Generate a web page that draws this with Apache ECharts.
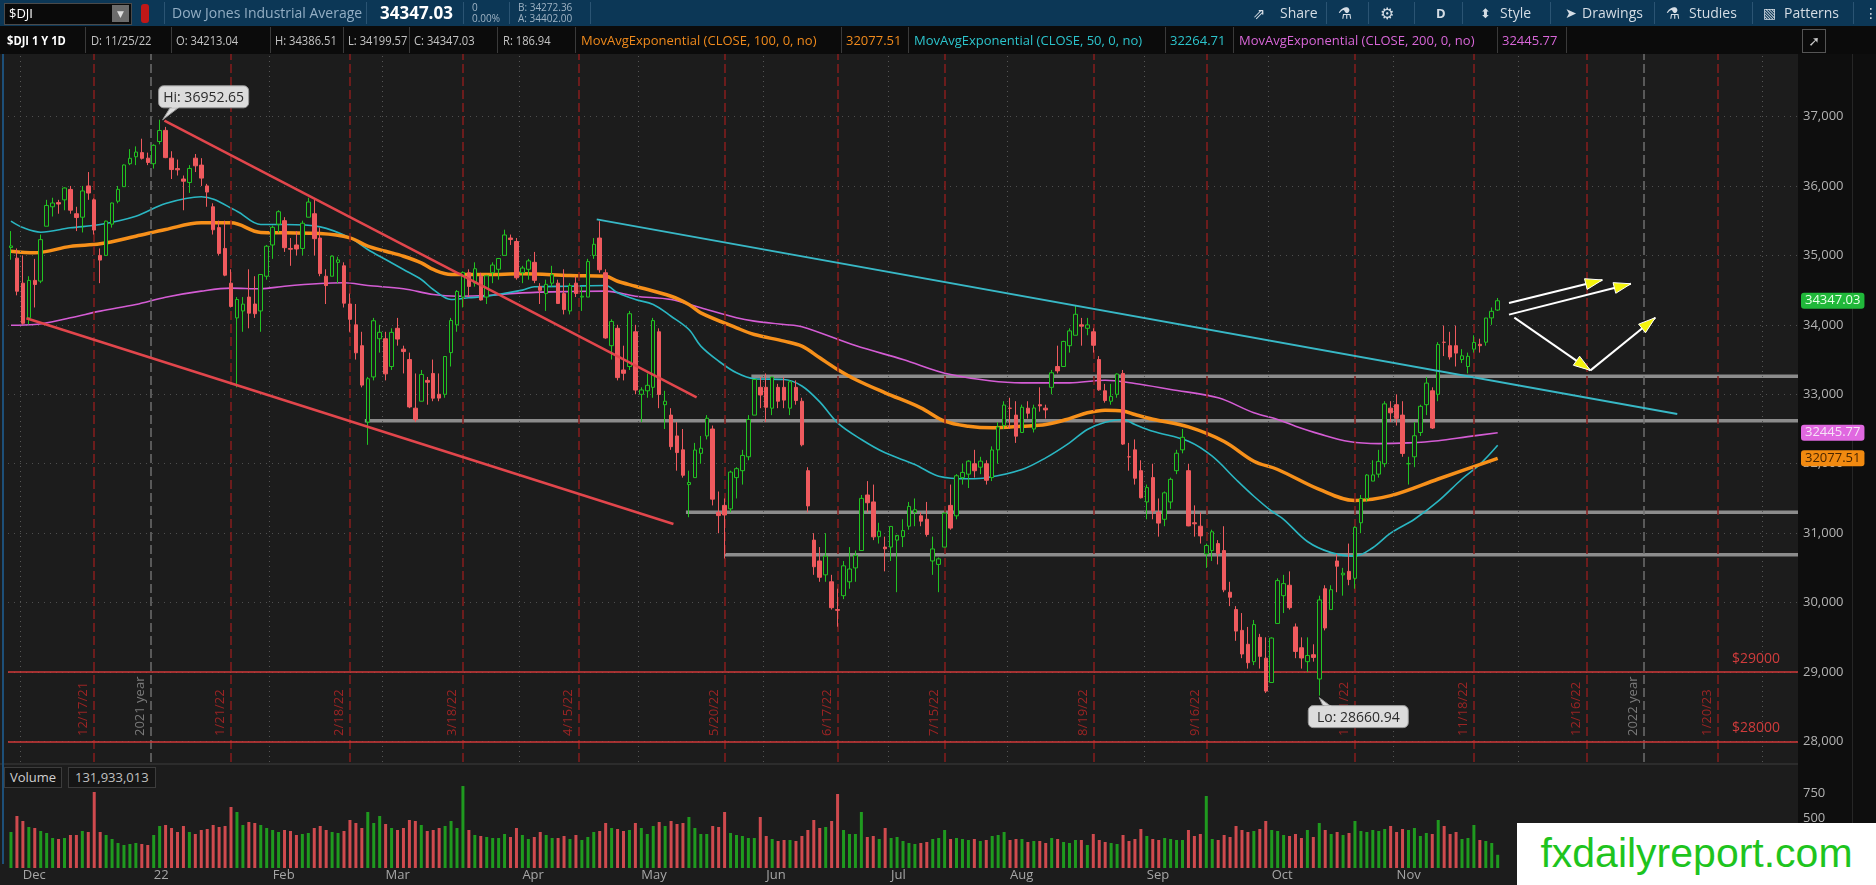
<!DOCTYPE html>
<html><head><meta charset="utf-8">
<script src="https://cdn.jsdelivr.net/npm/echarts@6/dist/echarts.min.js"></script>
<style>
html,body{margin:0;padding:0;background:#1c1c1c;width:1876px;height:885px;overflow:hidden;font-family:"Open Sans","DejaVu Sans",sans-serif;}
#chart{position:absolute;left:0;top:0;width:1876px;height:885px;z-index:1;}
.bg{position:absolute;z-index:0}
.ov{position:absolute;z-index:2;white-space:nowrap}
.tb{color:#d5dde5;font-size:14px;top:4px;line-height:18px}
.sep{position:absolute;z-index:2;width:1px;background:#2b5473}
.cell{position:absolute;z-index:2;top:26px;height:28px;line-height:28px;font-size:13px;color:#c4c4c4;white-space:nowrap}
.nar{transform:scaleX(0.86);transform-origin:left center}
.cb{position:absolute;z-index:2;top:27px;height:26px;width:1px;background:#3a3a3a}
</style></head>
<body>
<div class="bg" style="left:0;top:0;width:1876px;height:26px;background:#0c3756"></div>
<div class="bg" style="left:0;top:26px;width:1876px;height:28px;background:#0b0b0b"></div>
<div class="bg" style="left:1798px;top:54px;width:78px;height:831px;background:#0e0e0e"></div>
<div class="bg" style="left:1852px;top:54px;width:1px;height:831px;background:#262626"></div>
<div class="bg" style="left:0;top:763px;width:1798px;height:2px;background:#2c2c2c"></div>
<div class="bg" style="left:2px;top:54px;width:2px;height:810px;background:#1d4f78"></div>

<!-- toolbar -->
<div class="ov" style="left:4px;top:3px;width:126px;height:20px;background:#0a0a0a;border:1px solid #4a4a4a"></div>
<div class="ov" style="left:9px;top:3px;color:#fff;font-size:13px;line-height:21px">$DJI</div>
<div class="ov" style="left:112px;top:5px;width:17px;height:17px;background:#6b6b6b;color:#ddd;font-size:9px;line-height:17px;text-align:center">&#9660;</div>
<div class="ov" style="left:141px;top:4px;width:8px;height:19px;background:#c01818;border-radius:3px"></div>
<div class="sep" style="left:164px;top:2px;height:22px"></div>
<div class="ov" style="left:172px;top:3px;color:#93aec4;font-size:14px;line-height:20px">Dow Jones Industrial Average</div>
<div class="sep" style="left:366px;top:2px;height:22px"></div>
<div class="ov" style="left:380px;top:2px;color:#fff;font-size:17px;font-weight:bold;line-height:22px">34347.03</div>
<div class="sep" style="left:463px;top:2px;height:22px"></div>
<div class="ov" style="left:472px;top:2px;color:#9fb3c4;font-size:10px;line-height:11px">0<br>0.00%</div>
<div class="sep" style="left:509px;top:2px;height:22px"></div>
<div class="ov" style="left:518px;top:2px;color:#9fb3c4;font-size:10px;line-height:11px">B: 34272.36<br>A: 34402.00</div>
<div class="sep" style="left:590px;top:2px;height:22px"></div>

<div class="ov tb" style="left:1253px;font-size:15px">&#8663;</div>
<div class="ov tb" style="left:1280px">Share</div>
<div class="sep" style="left:1326px;top:2px;height:22px"></div>
<div class="ov tb" style="left:1338px;font-size:16px">&#9879;</div>
<div class="sep" style="left:1368px;top:2px;height:22px"></div>
<div class="ov tb" style="left:1380px;font-size:16px">&#9881;</div>
<div class="sep" style="left:1414px;top:2px;height:22px"></div>
<div class="ov tb" style="left:1436px;font-size:13px;font-weight:bold">D</div>
<div class="sep" style="left:1462px;top:2px;height:22px"></div>
<div class="ov tb" style="left:1480px;font-size:13px">&#11021;</div>
<div class="ov tb" style="left:1500px">Style</div>
<div class="sep" style="left:1550px;top:2px;height:22px"></div>
<div class="ov tb" style="left:1565px;font-size:14px">&#10148;</div>
<div class="ov tb" style="left:1582px">Drawings</div>
<div class="sep" style="left:1654px;top:2px;height:22px"></div>
<div class="ov tb" style="left:1666px;font-size:16px">&#9879;</div>
<div class="ov tb" style="left:1689px">Studies</div>
<div class="sep" style="left:1752px;top:2px;height:22px"></div>
<div class="ov tb" style="left:1763px;font-size:14px">&#9639;</div>
<div class="ov tb" style="left:1784px">Patterns</div>
<div class="sep" style="left:1853px;top:2px;height:22px"></div>
<div class="ov tb" style="left:1864px">&#8942;</div>

<!-- info row -->
<div class="cell nar" style="left:7px;color:#fff;font-weight:bold">$DJI 1 Y 1D</div>
<div class="cb" style="left:85px"></div>
<div class="cell nar" style="left:91px">D: 11/25/22</div>
<div class="cb" style="left:171px"></div>
<div class="cell nar" style="left:176px">O: 34213.04</div>
<div class="cb" style="left:270px"></div>
<div class="cell nar" style="left:275px">H: 34386.51</div>
<div class="cb" style="left:343px"></div>
<div class="cell nar" style="left:348px">L: 34199.57</div>
<div class="cb" style="left:409px"></div>
<div class="cell nar" style="left:414px">C: 34347.03</div>
<div class="cb" style="left:497px"></div>
<div class="cell nar" style="left:503px">R: 186.94</div>
<div class="cb" style="left:575px"></div>
<div class="cell" style="left:581px;color:#f08a1c">MovAvgExponential (CLOSE, 100, 0, no)</div>
<div class="cb" style="left:841px"></div>
<div class="cell" style="left:846px;color:#f08a1c">32077.51</div>
<div class="cb" style="left:908px"></div>
<div class="cell" style="left:914px;color:#2cc4cc">MovAvgExponential (CLOSE, 50, 0, no)</div>
<div class="cb" style="left:1165px"></div>
<div class="cell" style="left:1170px;color:#2cc4cc">32264.71</div>
<div class="cb" style="left:1233px"></div>
<div class="cell" style="left:1239px;color:#d866d8">MovAvgExponential (CLOSE, 200, 0, no)</div>
<div class="cb" style="left:1497px"></div>
<div class="cell" style="left:1502px;color:#d866d8">32445.77</div>
<div class="cb" style="left:1566px"></div>
<div class="ov" style="left:1802px;top:29px;width:22px;height:22px;border:1px solid #555;color:#ccc;font-size:14px;line-height:22px;text-align:center">&#10138;</div>

<!-- volume label -->
<div class="ov" style="left:4px;top:767px;height:19px;padding:0 5px;border:1px solid #3c3c3c;background:#151515;color:#d0d0d0;font-size:13px;line-height:19px">Volume</div>
<div class="ov" style="left:68px;top:767px;height:19px;padding:0 6px;border:1px solid #3c3c3c;background:#151515;color:#c0c0c0;font-size:13px;line-height:19px">131,933,013</div>

<!-- watermark -->
<div class="ov" style="left:1517px;top:823px;width:359px;height:62px;background:#ffffff;z-index:3"></div>
<div class="ov" style="left:1517px;top:823px;width:359px;height:62px;line-height:60px;text-align:center;color:#1ec41e;font-size:41px;font-family:'Liberation Sans',Arial,sans-serif;z-index:4">fxdailyreport.com</div>

<div id="chart"></div>
<script>
// ---------- DATA ----------
// date, open, high, low, close
const dailyOHLC = [
['11/29/21',35113,35350,34937,35136],['11/30/21',34960,35100,34425,34484],
['12/1/21',34600,35000,34000,34022],['12/2/21',34100,34700,34006,34640],['12/3/21',34640,34950,34250,34581],
['12/6/21',34630,35300,34600,35227],['12/7/21',35420,35800,35420,35719],['12/8/21',35700,35830,35560,35754],['12/9/21',35760,35800,35600,35740],['12/10/21',35800,35980,35650,35971],
['12/13/21',35950,36000,35600,35651],['12/14/21',35600,35700,35350,35545],['12/15/21',35550,36000,35330,35928],['12/16/21',36000,36200,35800,35898],['12/17/21',35800,35820,35300,35365],
['12/20/21',35000,35100,34600,34932],['12/21/21',35000,35500,35000,35493],['12/22/21',35450,35760,35400,35754],['12/23/21',35780,36000,35750,35951],
['12/27/21',35990,36310,35990,36302],['12/28/21',36320,36530,36300,36398],['12/29/21',36420,36570,36300,36488],['12/30/21',36480,36680,36380,36398],['12/31/21',36400,36480,36300,36338],
['1/3/22',36320,36600,36250,36585],['1/4/22',36640,36953,36600,36799],['1/5/22',36800,36850,36400,36408],['1/6/22',36400,36500,36100,36236],['1/7/22',36250,36380,36150,36232],
['1/10/22',36100,36150,35650,36068],['1/11/22',36050,36300,35900,36252],['1/12/22',36400,36460,36200,36290],['1/13/22',36300,36400,36000,36113],['1/14/22',36000,36030,35700,35912],
['1/18/22',35700,35750,35300,35369],['1/19/22',35400,35500,35000,35029],['1/20/22',35100,35500,34700,34715],['1/21/22',34600,34800,34250,34265],
['1/24/22',34100,34400,33100,34365],['1/25/22',34200,34400,33900,34298],['1/26/22',34400,34800,33950,34168],['1/27/22',34300,34700,34100,34160],['1/28/22',34200,34730,33900,34725],
['1/31/22',34700,35150,34650,35132],['2/1/22',35150,35430,34950,35405],['2/2/22',35450,35650,35330,35629],['2/3/22',35500,35550,35050,35111],['2/4/22',35100,35250,34850,35089],
['2/7/22',35150,35350,35000,35092],['2/8/22',35100,35500,35000,35463],['2/9/22',35550,35830,35550,35768],['2/10/22',35600,35800,35000,35241],['2/11/22',35250,35400,34700,34738],
['2/14/22',34700,34800,34300,34566],['2/15/22',34700,35000,34700,34989],['2/16/22',34900,34980,34600,34935],['2/17/22',34850,34900,34250,34312],['2/18/22',34300,34450,33900,34079],
['2/22/22',34000,34300,33500,33597],['2/23/22',33700,33900,33100,33132],['2/24/22',32600,33250,32272,33224],['2/25/22',33250,34100,33200,34059],
['2/28/22',33800,34000,33600,33893],['3/1/22',33800,33900,33200,33294],['3/2/22',33400,33950,33350,33892],['3/3/22',33950,34100,33700,33795],['3/4/22',33650,33700,33300,33615],
['3/7/22',33500,33600,32800,32818],['3/8/22',32800,33300,32600,32633],['3/9/22',32900,33350,32900,33286],['3/10/22',33200,33250,32850,33174],['3/11/22',33300,33500,32900,32944],
['3/14/22',33000,33300,32900,32945],['3/15/22',33000,33550,32950,33544],['3/16/22',33600,34100,33400,34063],['3/17/22',34000,34500,33900,34481],['3/18/22',34400,34770,34250,34755],
['3/21/22',34750,34800,34400,34553],['3/22/22',34600,34900,34550,34808],['3/23/22',34700,34750,34350,34358],['3/24/22',34400,34720,34300,34707],['3/25/22',34750,34900,34600,34861],
['3/28/22',34800,34960,34650,34955],['3/29/22',35000,35370,35000,35294],['3/30/22',35250,35300,35150,35228],['3/31/22',35200,35250,34650,34678],['4/1/22',34750,34850,34600,34818],
['4/4/22',34800,34950,34650,34921],['4/5/22',34900,35050,34600,34641],['4/6/22',34550,34600,34300,34497],['4/7/22',34450,34650,34200,34583],['4/8/22',34600,34850,34550,34721],
['4/11/22',34600,34650,34300,34308],['4/12/22',34450,34800,34150,34220],['4/13/22',34200,34600,34150,34565],['4/14/22',34600,34700,34400,34451],
['4/18/22',34400,34550,34200,34412],['4/19/22',34400,34950,34400,34911],['4/20/22',35000,35250,34950,35160],['4/21/22',35250,35492,34750,34793],['4/22/22',34750,34800,33800,33811],
['4/25/22',33700,34080,33500,34049],['4/26/22',33950,34000,33200,33240],['4/27/22',33350,33700,33200,33302],['4/28/22',33400,34200,33350,34160],['4/29/22',33900,34000,33000,33061],
['5/2/22',33000,33100,32600,33062],['5/3/22',33050,33300,32950,33129],['5/4/22',33100,34100,32950,34061],['5/5/22',33900,33950,32800,32998],['5/6/22',32850,33050,32500,32900],
['5/9/22',32700,32800,32200,32246],['5/10/22',32400,32600,31900,32161],['5/11/22',32200,32500,31800,31834],['5/12/22',31700,31900,31230,31730],['5/13/22',31800,32300,31800,32197],
['5/16/22',32150,32400,32000,32223],['5/17/22',32400,32700,32350,32655],['5/18/22',32500,32550,31400,31490],['5/19/22',31300,31600,31000,31253],['5/20/22',31400,31500,30636,31262],
['5/23/22',31350,31900,31300,31880],['5/24/22',31800,31950,31500,31929],['5/25/22',31900,32200,31700,32120],['5/26/22',32100,32700,32050,32637],['5/27/22',32700,33215,32700,33213],
['5/31/22',33100,33250,32800,32990],['6/1/22',33100,33300,32600,32813],['6/2/22',32800,33250,32700,33248],['6/3/22',33100,33150,32800,32900],
['6/6/22',33100,33250,32800,32916],['6/7/22',32800,33200,32700,33180],['6/8/22',33100,33200,32850,32910],['6/9/22',32900,32950,32250,32273],['6/10/22',31900,31950,31300,31393],
['6/13/22',30900,31000,30400,30517],['6/14/22',30600,30800,30300,30365],['6/15/22',30400,31000,30300,30669],['6/16/22',30300,30400,29900,29927],['6/17/22',29900,30200,29653,29889],
['6/21/22',30100,30600,30050,30530],['6/22/22',30300,30800,30200,30484],['6/23/22',30500,30750,30300,30677],['6/24/22',30750,31550,30750,31501],
['6/27/22',31550,31750,31300,31438],['6/28/22',31450,31700,30900,30947],['6/29/22',30950,31150,30850,31029],['6/30/22',30800,30950,30450,30775],['7/1/22',30800,31100,30600,31097],
['7/5/22',30900,30950,30150,30968],['7/6/22',30950,31200,30800,31037],['7/7/22',31100,31450,31050,31385],['7/8/22',31300,31500,31100,31338],
['7/11/22',31250,31300,31100,31173],['7/12/22',31200,31450,30950,30981],['7/13/22',30600,30950,30400,30773],['7/14/22',30550,30650,30150,30630],['7/15/22',30800,31300,30800,31289],
['7/18/22',31400,31700,31050,31073],['7/19/22',31250,31850,31200,31827],['7/20/22',31800,32000,31700,31875],['7/21/22',31850,32050,31650,32037],['7/22/22',32000,32200,31800,31899],
['7/25/22',31950,32100,31850,32037],['7/26/22',32000,32050,31700,31762],['7/27/22',31800,32250,31750,32198],['7/28/22',32200,32600,32000,32530],['7/29/22',32550,32900,32500,32845],
['8/1/22',32800,32950,32500,32798],['8/2/22',32700,32900,32300,32397],['8/3/22',32450,32850,32450,32813],['8/4/22',32800,32900,32650,32727],['8/5/22',32500,32850,32450,32803],
['8/8/22',32850,33100,32750,32833],['8/9/22',32800,32850,32650,32775],['8/10/22',33100,33350,33000,33310],['8/11/22',33400,33700,33300,33337],['8/12/22',33400,33770,33400,33761],
['8/15/22',33700,33950,33600,33913],['8/16/22',33850,34281,33850,34152],['8/17/22',34000,34100,33700,33981],['8/18/22',33950,34100,33850,33999],['8/19/22',33900,33950,33600,33706],
['8/22/22',33500,33550,33050,33064],['8/23/22',33050,33150,32880,32910],['8/24/22',32900,33150,32850,32970],['8/25/22',33000,33300,32950,33292],['8/26/22',33300,33350,32270,32283],
['8/29/22',32100,32300,31900,32099],['8/30/22',32200,32350,31700,31791],['8/31/22',31900,32050,31500,31510],['9/1/22',31450,31700,31200,31656],['9/2/22',31800,32000,31200,31318],
['9/6/22',31300,31500,30950,31145],['9/7/22',31200,31600,31100,31581],['9/8/22',31450,31800,31350,31775],['9/9/22',31900,32200,31850,32151],
['9/12/22',32200,32500,32150,32381],['9/13/22',31900,32000,31100,31105],['9/14/22',31150,31400,30950,31135],['9/15/22',31100,31300,30850,30961],['9/16/22',30700,30850,30500,30822],
['9/19/22',30750,31050,30600,31020],['9/20/22',30850,30900,30550,30706],['9/21/22',30750,31100,30150,30184],['9/22/22',30150,30300,29950,30077],['9/23/22',29900,29950,29450,29590],
['9/26/22',29600,29850,29200,29260],['9/27/22',29400,29650,29050,29135],['9/28/22',29150,29750,29100,29684],['9/29/22',29500,29550,29050,29226],['9/30/22',29200,29500,28700,28726],
['10/3/22',28850,29500,28850,29490],['10/4/22',29700,30350,29700,30317],['10/5/22',30100,30400,29850,30274],['10/6/22',30250,30450,29900,29927],['10/7/22',29650,29700,29200,29297],
['10/10/22',29350,29500,29050,29203],['10/11/22',29150,29500,29000,29239],['10/12/22',29250,29400,29150,29211],['10/13/22',28900,30100,28661,30039],['10/14/22',30200,30250,29600,29635],
['10/17/22',29900,30250,29900,30186],['10/18/22',30600,30700,30150,30524],['10/19/22',30400,30500,30100,30424],['10/20/22',30450,30850,30250,30334],['10/21/22',30350,31100,30200,31083],
['10/24/22',31150,31550,31000,31500],['10/25/22',31500,31850,31450,31837],['10/26/22',31750,32050,31750,31839],['10/27/22',31850,32200,31800,32034],['10/28/22',32000,32900,31950,32862],
['10/31/22',32800,32900,32600,32733],['11/1/22',32850,33000,32550,32653],['11/2/22',32700,32900,32100,32148],['11/3/22',32000,32100,31700,32001],['11/4/22',32100,32600,31950,32403],
['11/7/22',32450,32850,32400,32827],['11/8/22',32850,33250,32700,33161],['11/9/22',33050,33100,32500,32514],['11/10/22',33000,33750,32900,33716],['11/11/22',33750,33990,33550,33748],
['11/14/22',33700,33900,33500,33537],['11/15/22',33700,33990,33400,33593],['11/16/22',33500,33650,33450,33554],['11/17/22',33400,33600,33300,33547],['11/18/22',33650,33850,33600,33746],
['11/21/22',33720,33800,33600,33700],['11/22/22',33750,34100,33700,34098],['11/23/22',34100,34250,34000,34195],['11/25/22',34213,34387,34200,34347]
];
// future (blank) trading days shown on the axis
const futureDates = ['11/28/22','11/29/22','11/30/22','12/1/22','12/2/22','12/5/22','12/6/22','12/7/22','12/8/22','12/9/22','12/12/22','12/13/22','12/14/22','12/15/22','12/16/22','12/19/22','12/20/22','12/21/22','12/22/22','12/23/22','12/27/22','12/28/22','12/29/22','12/30/22','1/3/23','1/4/23','1/5/23','1/6/23','1/9/23','1/10/23','1/11/23','1/12/23','1/13/23','1/17/23','1/18/23','1/19/23','1/20/23','1/23/23','1/24/23','1/25/23','1/26/23','1/27/23','1/30/23','1/31/23','2/1/23','2/2/23','2/3/23','2/6/23','2/7/23','2/8/23'];
// volume in millions
const volumeM = [360,520,470,410,400,370,350,300,290,300,330,330,370,360,760,360,330,290,250,230,240,250,240,230,
330,420,430,400,360,420,360,340,380,390,430,410,420,610,560,430,460,450,430,400,
380,360,380,370,330,340,350,400,420,380,360,350,370,480,450,400,560,450,520,
440,400,380,400,480,470,430,370,380,400,420,470,400,820,380,330,320,310,300,300,340,310,400,
330,290,310,360,330,300,300,320,290,330,280,310,360,370,450,400,390,370,380,450,
400,340,420,460,420,470,440,450,510,400,340,340,420,410,560,350,330,320,300,300,510,
320,290,270,280,280,270,320,380,480,400,410,470,740,380,340,340,560,310,320,290,400,
300,310,270,250,240,250,260,290,300,380,290,300,290,280,290,270,280,320,330,360,
280,290,290,260,270,270,250,300,290,260,250,280,280,230,340,280,260,250,240,330,270,290,390,
320,290,280,300,290,280,280,380,320,340,720,290,280,330,310,420,380,360,370,390,470,
380,370,330,320,340,300,380,310,450,380,340,360,330,350,470,370,360,380,370,390,420,
360,390,380,400,320,350,340,480,420,340,360,290,300,430,280,270,250,132];
// EMA readings (trading-day index, value)
const ema100Idx = [0,4,10,15,21,26,32,37,42,46,52,57,60,63,66,69,71,74,80,86,94,100,102,105,111,114,116,122,125,130,133,136,139,142,147,153,157,161,165,170,174,178,181,184,187,189,192,198,204,209,213,220,226,232,240,250];
const ema100Val = [35060,35037,35130,35167,35276,35373,35469,35469,35330,35325,35315,35253,35132,35060,34988,34893,34797,34725,34725,34735,34710,34700,34628,34556,34412,34293,34173,33957,33861,33765,33693,33525,33357,33213,33021,32805,32613,32540,32517,32540,32565,32650,32733,32771,32760,32709,32640,32530,32320,32036,31917,31630,31470,31540,31780,32077.51];
const ema50Idx = [0,2,5,10,15,21,26,32,38,42,46,52,57,60,63,66,69,71,74,77,80,86,88,94,100,102,105,108,111,114,116,119,122,125,130,133,136,139,143,147,152,156,161,164,170,174,178,181,184,187,189,192,198,202,206,209,212,214,218,222,226,229,232,236,240,244,247,250];
const ema50Val = [35493,35400,35334,35397,35445,35565,35747,35844,35637,35445,35445,35411,35253,35085,34940,34797,34653,34509,34365,34389,34412,34500,34548,34556,34566,34461,34365,34293,34124,33933,33693,33477,33309,33223,33213,33120,32890,32589,32349,32157,31989,31820,31783,31797,31917,32085,32301,32493,32598,32637,32565,32468,32324,32108,31773,31532,31316,31200,30880,30720,30670,30790,31000,31200,31460,31780,31990,32264.71];
const ema200Idx = [0,4,10,15,21,26,32,37,42,46,52,56,60,66,71,75,80,86,94,100,105,111,116,122,125,130,133,142,150,158,170,178,184,189,195,203,209,213,216,220,225,230,235,240,245,250];
const ema200Val = [33995,34005,34101,34197,34293,34398,34485,34528,34519,34556,34595,34605,34566,34519,34437,34412,34422,34460,34480,34485,34412,34365,34245,34101,34053,34005,33972,33702,33501,33285,33165,33165,33203,33155,33069,32949,32733,32637,32540,32430,32320,32290,32300,32330,32390,32445.77];
// drawn studies (index, price) pairs
const redTrendLines = [[2.6,34094,111.4,31132],[25.8,36940,115.3,32957]];
const cyanTrendLines = [[98.5,35520,280.2,32716]];
const levelStarts = [124.5,59.5,113.5,120];
const levelValues = [33260,32620,31300,30690];
const arrowSegs = [[251.9,34314,267.6,34646],[251.9,34147,272.4,34591],[252.8,34103,265.6,33344],[265.6,33344,276.5,34103]];
const priceLevels = [29000,28000];
const opexIdx = [14,37,57,76,95.5,120,139,157,182,201,226,246,265,287];
const opexLabels = ['12/17/21','1/21/22','2/18/22','3/18/22','4/15/22','5/20/22','6/17/22','7/15/22','8/19/22','9/16/22','10/21/22','11/18/22','12/16/22','1/20/23'];
const yearIdx = [23.5,274.5];
const yearLabels = ['2021 year','2022 year'];
const monthStartIdx = [2,24,44,63,86,106,127,148,168,191,212,233,254,275,295];
const monthLabels = ['Dec','22','Feb','Mar','Apr','May','Jun','Jul','Aug','Sep','Oct','Nov','Dec','23','Feb'];
const yTicks = [28000,29000,30000,31000,32000,33000,34000,35000,36000,37000];
const volTicks = [500,750];
const hiPoint = [25,36952.65];
const loPoint = [220,28660.94];
const lastClose = 34347.03, lastEma200 = 32445.77, lastEma100 = 32077.51;

// ---------- BUILD ----------
const categories = dailyOHLC.map(r => r[0]).concat(futureDates);
const NC = categories.length;
const candleData = dailyOHLC.map(r => [r[1], r[4], r[3], r[2]]);
const volData = dailyOHLC.map((r, i) => ({value: volumeM[i], itemStyle: {color: r[4] >= r[1] ? '#1f9a1f' : '#cf4a4e'}}));
const zip = (a, b) => a.map((v, i) => [v, b[i]]);

function segItem(color, width) {
  return function (params, api) {
    const p1 = api.coord([api.value(0), api.value(1)]);
    const p2 = api.coord([api.value(2), api.value(3)]);
    return {type: 'line', shape: {x1: p1[0], y1: p1[1], x2: p2[0], y2: p2[1]}, style: {stroke: color, lineWidth: width}};
  };
}
function arrowItem(params, api) {
  const p1 = api.coord([api.value(0), api.value(1)]);
  const p2 = api.coord([api.value(2), api.value(3)]);
  const dx = p2[0] - p1[0], dy = p2[1] - p1[1], len = Math.hypot(dx, dy), ux = dx / len, uy = dy / len;
  const hl = 17, hw = 5.5;
  const bx = p2[0] - ux * hl, by = p2[1] - uy * hl;
  return {type: 'group', children: [
    {type: 'line', shape: {x1: p1[0], y1: p1[1], x2: p2[0], y2: p2[1]}, style: {stroke: '#ffffff', lineWidth: 2}},
    {type: 'polygon', shape: {points: [[p2[0], p2[1]], [bx - uy * hw, by + ux * hw], [bx + uy * hw, by - ux * hw]]}, style: {fill: '#f4f40c', stroke: '#ffffff', lineWidth: 1}}
  ]};
}
function calloutItem(params, api) {
  const kind = api.value(2);
  const p = api.coord([api.value(0), api.value(1)]);
  const isHi = kind === 1;
  const text = (isHi ? 'Hi: ' : 'Lo: ') + api.value(1).toFixed(2);
  const w = isHi ? 90 : 100, h = 22;
  const bx = isHi ? p[0] - 1 : p[0] - 11;
  const by = isHi ? p[1] - 34 : p[1] + 10;
  const tri = isHi
    ? [[p[0] + 11, by + h - 1], [p[0] + 20, by + h - 1], [p[0] + 3, p[1]]]
    : [[p[0] + 4, by + 1], [p[0] + 12, by + 1], [p[0], p[1] + 2]];
  return {type: 'group', children: [
    {type: 'polygon', shape: {points: tri}, style: {fill: '#dcdcdc', stroke: '#9a9a9a', lineWidth: 1}},
    {type: 'rect', shape: {x: bx, y: by, width: w, height: h, r: 5}, style: {fill: '#dcdcdc', stroke: '#9a9a9a', lineWidth: 1}},
    {type: 'rect', shape: {x: tri[0][0] + 1, y: isHi ? by + h - 3 : by, width: 7, height: 3}, style: {fill: '#dcdcdc'}},
    {type: 'text', style: {x: bx + w / 2, y: by + h / 2 + 1, text: text, fill: '#2b2b2b', font: '14px "Open Sans"', align: 'center', verticalAlign: 'middle'}}
  ]};
}

const chart = echarts.init(document.getElementById('chart'), null, {renderer: 'canvas'});
const option = {
  animation: false,
  backgroundColor: 'transparent',
  textStyle: {fontFamily: 'Open Sans'},
  grid: [
    {left: 8, right: 78, top: 54, bottom: 123},
    {left: 8, right: 78, top: 766, bottom: 17}
  ],
  xAxis: [
    {type: 'category', gridIndex: 0, data: categories, boundaryGap: true, axisLine: {show: false}, axisTick: {show: false}, axisLabel: {show: false}, splitLine: {show: false}},
    {type: 'value', gridIndex: 0, min: -0.5, max: NC - 0.5, show: false, splitLine: {show: false}},
    {type: 'category', gridIndex: 1, data: categories, boundaryGap: true, axisLine: {show: false}, axisTick: {show: false},
      axisLabel: {show: true, interval: (i) => monthStartIdx.indexOf(i) >= 0, formatter: (v, i) => monthLabels[monthStartIdx.indexOf(i)] || '', color: '#a6a6a6', fontSize: 13, align: 'left', margin: 1},
      splitLine: {show: false}}
  ],
  yAxis: [
    {type: 'value', gridIndex: 0, position: 'right', min: 27705, max: 37900, scale: true,
      axisLine: {show: false}, axisTick: {show: false, customValues: yTicks},
      axisLabel: {customValues: yTicks, color: '#b3b3b3', fontSize: 13, margin: 5},
      splitLine: {show: true, lineStyle: {color: '#4e4e4e', type: [1, 5], width: 1}}},
    {type: 'value', gridIndex: 1, position: 'right', min: 0, max: 1020,
      axisLine: {show: false}, axisTick: {show: false, customValues: volTicks},
      axisLabel: {customValues: volTicks, color: '#b3b3b3', fontSize: 13, margin: 5},
      splitLine: {show: false}}
  ],
  series: [
    {type: 'line', xAxisIndex: 1, yAxisIndex: 0, data: [], silent: true, z: 1,
      markLine: {silent: true, symbol: ['none', 'none'], animation: false, label: {show: false},
        lineStyle: {color: '#555', type: [1, 4], width: 1},
        data: monthStartIdx.filter(i => i !== 24 && i !== 275).map(i => ({xAxis: i - 0.5}))}},
    {type: 'line', xAxisIndex: 1, yAxisIndex: 0, data: [], silent: true, z: 1,
      markLine: {silent: true, symbol: ['none', 'none'], animation: false,
        lineStyle: {color: '#6e6e6e', type: [9, 4], width: 1.5},
        label: {show: true, position: 'insideStartTop', color: '#7a7a7a', fontSize: 13, distance: 4, padding: [0, 0, 0, 22]},
        data: yearIdx.map((v, i) => ({xAxis: v, label: {formatter: yearLabels[i]}}))}},
    {type: 'line', xAxisIndex: 1, yAxisIndex: 0, data: [], silent: true, z: 1,
      markLine: {silent: true, symbol: ['none', 'none'], animation: false,
        lineStyle: {color: '#861c1c', type: [9, 4], width: 1.5},
        label: {show: true, position: 'insideStartTop', color: '#9c2424', fontSize: 13, distance: 4, padding: [0, 0, 0, 22]},
        data: opexIdx.map((v, i) => ({xAxis: v, label: {formatter: opexLabels[i]}}))}},
    {type: 'line', xAxisIndex: 1, yAxisIndex: 0, data: [], silent: true, z: 2,
      markLine: {silent: true, symbol: ['none', 'none'], animation: false,
        lineStyle: {color: '#d03838', type: 'solid', width: 1.6},
        label: {show: true, position: 'insideEndTop', color: '#d03c3c', fontSize: 14, distance: 6, padding: [0, 12, 0, 0], formatter: (p) => '$' + p.value},
        data: priceLevels.map(v => ({yAxis: v}))}},
    {type: 'custom', xAxisIndex: 1, yAxisIndex: 0, silent: true, z: 3, clip: true,
      renderItem: segItem('#8c8c8c', 3.5), encode: {x: [0, 2], y: [1, 3]},
      data: levelStarts.map((s, i) => [s, levelValues[i], NC - 0.5, levelValues[i]])},
    {type: 'line', name: 'EMA200', xAxisIndex: 1, yAxisIndex: 0, data: zip(ema200Idx, ema200Val), smooth: 0.35, showSymbol: false, silent: true, z: 4,
      lineStyle: {color: '#d45cd4', width: 1.6}},
    {type: 'line', name: 'EMA50', xAxisIndex: 1, yAxisIndex: 0, data: zip(ema50Idx, ema50Val), smooth: 0.35, showSymbol: false, silent: true, z: 4,
      lineStyle: {color: '#2ab6c2', width: 1.6}},
    {type: 'line', name: 'EMA100', xAxisIndex: 1, yAxisIndex: 0, data: zip(ema100Idx, ema100Val), smooth: 0.35, showSymbol: false, silent: true, z: 4,
      lineStyle: {color: '#f7901a', width: 3.5}},
    {type: 'candlestick', xAxisIndex: 0, yAxisIndex: 0, data: candleData, barWidth: 4, z: 6,
      itemStyle: {color: '#1c1c1c', color0: '#ef5a5e', borderColor: '#22c322', borderColor0: '#ef5a5e', borderWidth: 1},
      markLine: {silent: true, symbol: ['none', 'none'], animation: false, z: 20,
        lineStyle: {color: 'rgba(0,0,0,0)', width: 0},
        label: {show: true, position: 'end', distance: 3, fontSize: 13, padding: [2, 4, 1, 4], borderRadius: 3},
        data: [
          {yAxis: lastEma100, label: {formatter: lastEma100.toFixed(2), backgroundColor: '#f28a10', color: '#4a2600'}},
          {yAxis: lastEma200, label: {formatter: lastEma200.toFixed(2), backgroundColor: '#e068e0', color: '#f6e2f6'}},
          {yAxis: lastClose, label: {formatter: lastClose.toFixed(2), backgroundColor: '#20b83a', color: '#e8ffe8'}}
        ]}},
    {type: 'custom', xAxisIndex: 1, yAxisIndex: 0, silent: true, z: 7, clip: true,
      renderItem: segItem('#e2464c', 2.5), encode: {x: [0, 2], y: [1, 3]}, data: redTrendLines},
    {type: 'custom', xAxisIndex: 1, yAxisIndex: 0, silent: true, z: 7, clip: true,
      renderItem: segItem('#38b8c6', 1.8), encode: {x: [0, 2], y: [1, 3]}, data: cyanTrendLines},
    {type: 'custom', xAxisIndex: 1, yAxisIndex: 0, silent: true, z: 8, clip: true,
      renderItem: arrowItem, encode: {x: [0, 2], y: [1, 3]}, data: arrowSegs},
    {type: 'custom', xAxisIndex: 1, yAxisIndex: 0, silent: true, z: 9, clip: false,
      renderItem: calloutItem, encode: {x: 0, y: 1},
      data: [[hiPoint[0], hiPoint[1], 1], [loPoint[0], loPoint[1], 0]]},
    {type: 'bar', xAxisIndex: 2, yAxisIndex: 1, data: volData, barWidth: 3, silent: true}
  ]
};
chart.setOption(option);
</script>
</body></html>
